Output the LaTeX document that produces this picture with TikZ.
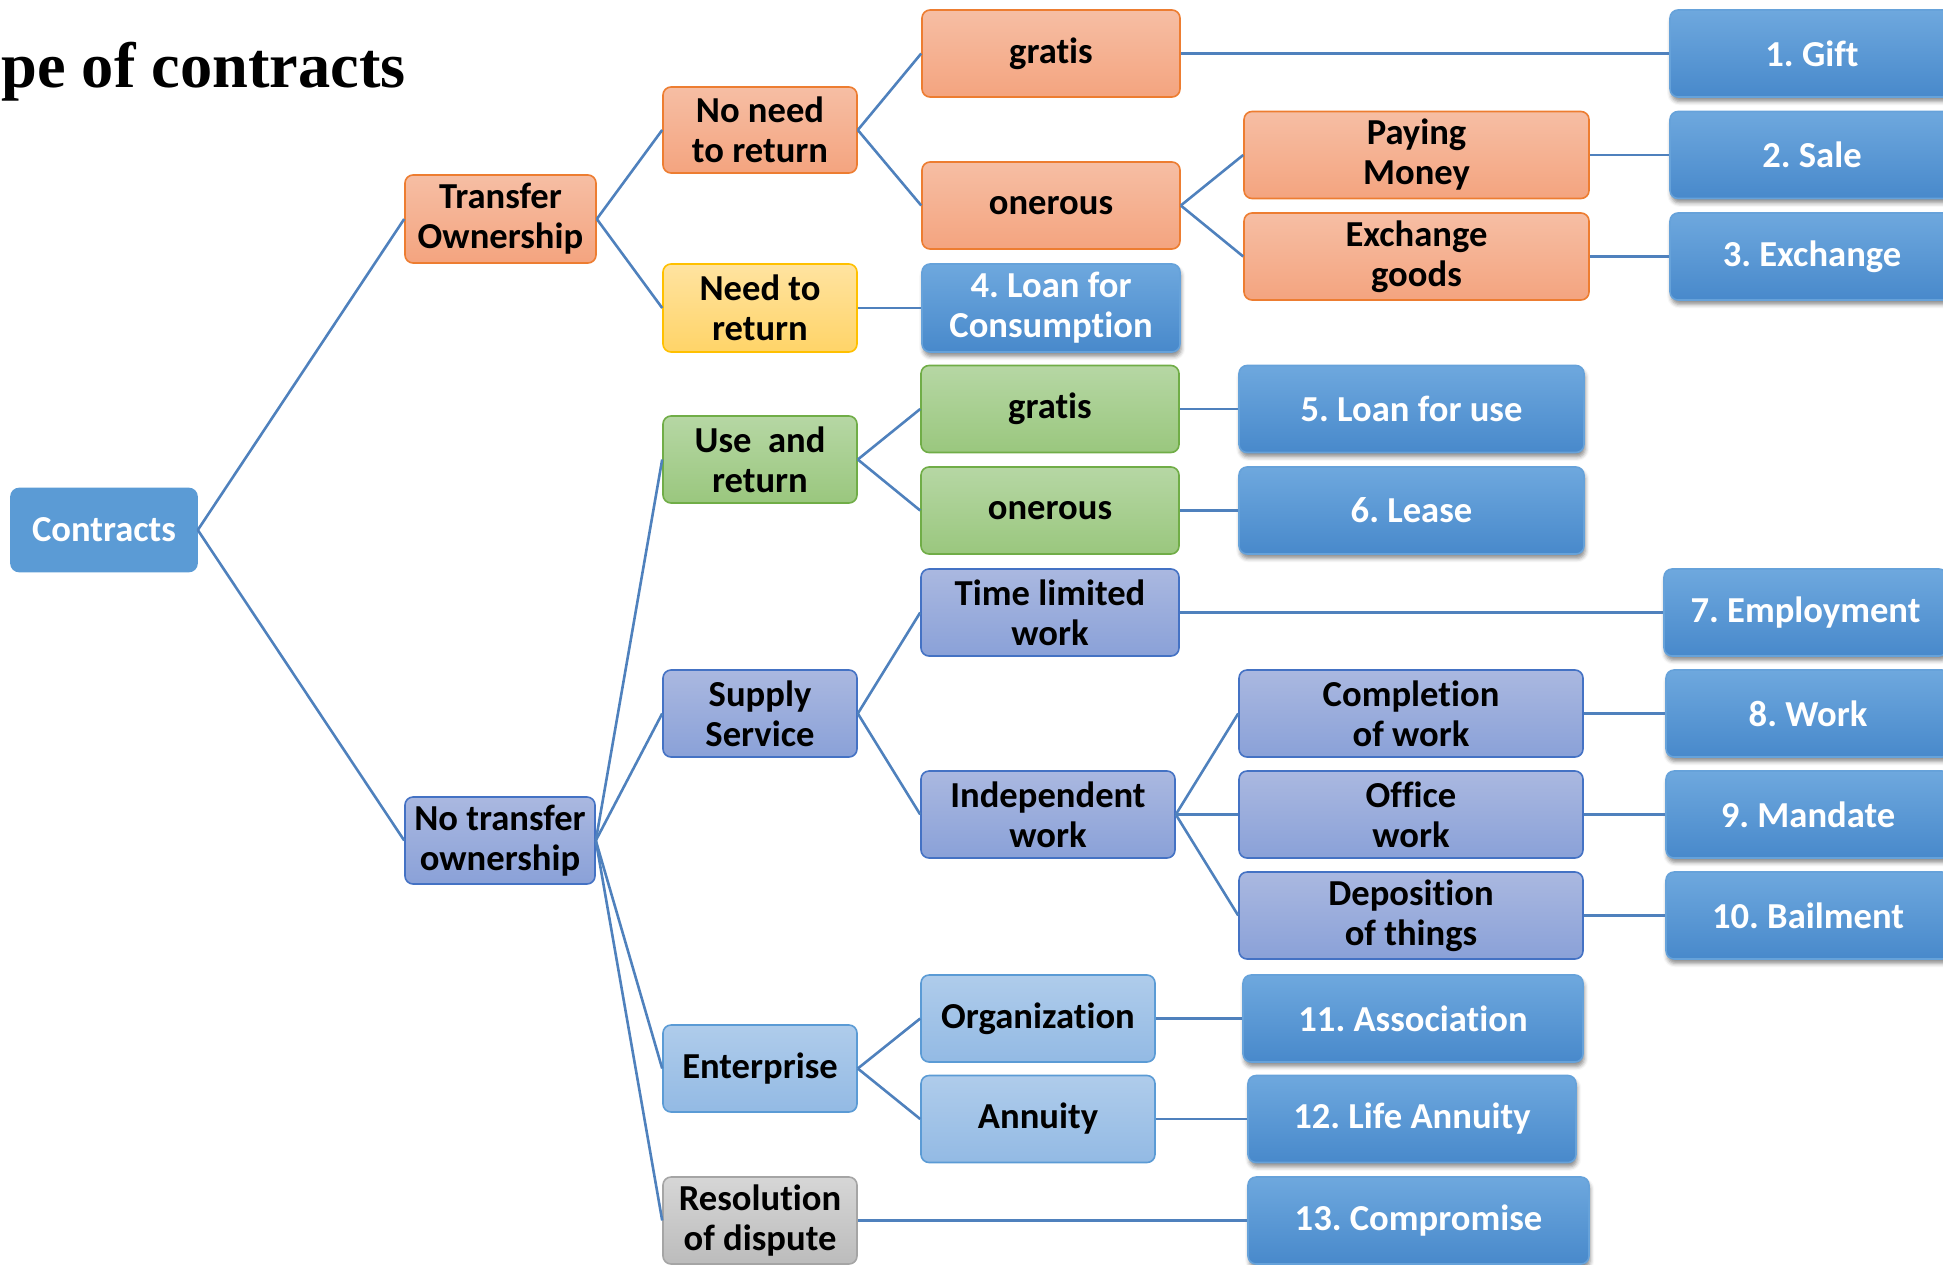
\documentclass[tikz,border=0pt]{standalone}
\usepackage{fontspec}
\newfontfamily\carlito[Ligatures=NoCommon]{Carlito}
\newfontfamily\titlefont{Liberation Serif}
\usetikzlibrary{shadows.blur}
\frenchspacing

\definecolor{linkc}{HTML}{4F81BD}
\definecolor{orTop}{HTML}{F6BEA4}
\definecolor{orBot}{HTML}{F4A47F}
\definecolor{orLine}{HTML}{ED7D31}
\definecolor{yeTop}{HTML}{FFE3A0}
\definecolor{yeBot}{HTML}{FFD468}
\definecolor{yeLine}{HTML}{FFC000}
\definecolor{grTop}{HTML}{B6D7A4}
\definecolor{grBot}{HTML}{9AC77E}
\definecolor{grLine}{HTML}{70AD47}
\definecolor{puTop}{HTML}{AAB8E0}
\definecolor{puBot}{HTML}{8AA1D8}
\definecolor{puLine}{HTML}{4472C4}
\definecolor{lbTop}{HTML}{AFCCEB}
\definecolor{lbBot}{HTML}{93BAE4}
\definecolor{lbLine}{HTML}{5B9BD5}
\definecolor{gyTop}{HTML}{D6D6D6}
\definecolor{gyBot}{HTML}{BCBCBC}
\definecolor{gyLine}{HTML}{A5A5A5}
\definecolor{rsTop}{HTML}{6EA8DE}
\definecolor{rsBot}{HTML}{4889CB}
\definecolor{rootc}{HTML}{5B9BD5}

\begin{document}
\begin{tikzpicture}[x=0.5pt,y=-0.5pt,
  box/.style={rounded corners=4pt, line width=0.8pt, align=center, inner sep=0pt,
    font=\carlito\bfseries\fontsize{18.3}{20}\selectfont, text=black},
  wh/.style 2 args={minimum width=#1*0.5pt, minimum height=#2*0.5pt},
  orbox/.style={box, draw=orLine, top color=orTop, bottom color=orBot},
  yebox/.style={box, draw=yeLine, top color=yeTop, bottom color=yeBot},
  grbox/.style={box, draw=grLine, top color=grTop, bottom color=grBot},
  pubox/.style={box, draw=puLine, top color=puTop, bottom color=puBot},
  lbbox/.style={box, draw=lbLine, top color=lbTop, bottom color=lbBot},
  gybox/.style={box, draw=gyLine, top color=gyTop, bottom color=gyBot},
  resbox/.style={box, draw=rsTop!80!rsBot, top color=rsTop, bottom color=rsBot, text=white,
    blur shadow={shadow xshift=0.6pt, shadow yshift=-2.2pt, shadow blur radius=2pt, shadow opacity=45}},
  rootbox/.style={box, draw=rootc, fill=rootc, text=white},
  link/.style={draw=linkc, line width=1.3pt}
]
\useasboundingbox (0,0) rectangle (1943,1264);
\clip (0,0) rectangle (1943,1264);

% heading
\node[anchor=base west, inner sep=0pt, font=\titlefont\bfseries\fontsize{32.2}{36}\selectfont] (title) at (1,87) {pe of contracts};

% root
\node[rootbox, wh={186}{83}] (root) at (104,530) {Contracts};

% second level
\node[orbox, wh={191}{88}] (to) at (500.5,219) {Transfer\\Ownership};
\node[pubox, wh={190}{87}] (nto) at (500,840.5) {No transfer\\ownership};

% third level
\node[orbox, wh={194}{86}] (noneed) at (760,130) {No need\\to return};
\node[yebox, wh={194}{88}] (need) at (760,308) {Need to\\return};
\node[grbox, wh={194}{87}] (use) at (760,459.5) {Use\ \ and\\return};
\node[pubox, wh={194}{87}] (supply) at (760,713.5) {Supply\\Service};
\node[lbbox, wh={194}{87}] (ent) at (760,1068.5) {Enterprise};
\node[gybox, wh={194}{87}] (res) at (760,1220.5) {Resolution\\of dispute};

% fourth level
\node[orbox, wh={258}{87}] (gratisA) at (1051,53.5) {gratis};
\node[orbox, wh={258}{87}] (onerA) at (1051,205.5) {onerous};
\node[resbox, wh={258}{88}] (loanc) at (1051,308) {4. Loan for\\Consumption};
\node[grbox, wh={258}{87}] (gratisB) at (1050,409) {gratis};
\node[grbox, wh={258}{87}] (onerB) at (1050,510.5) {onerous};
\node[pubox, wh={258}{87}] (time) at (1050,612.5) {Time limited\\work};
\node[pubox, wh={254}{87}] (indep) at (1048,814.5) {Independent\\work};
\node[lbbox, wh={234}{87}] (org) at (1038,1018.5) {Organization};
\node[lbbox, wh={234}{87}] (annu) at (1038,1119) {Annuity};

% fifth level
\node[orbox, wh={345}{87}] (pay) at (1416.5,155) {Paying\\Money};
\node[orbox, wh={345}{87}] (exg) at (1416.5,256.5) {Exchange\\goods};
\node[resbox, wh={345}{87}] (loanu) at (1411.5,409) {5. Loan for use};
\node[resbox, wh={345}{87}] (lease) at (1411.5,510.5) {6. Lease};
\node[pubox, wh={344}{87}] (compl) at (1411,713.5) {Completion\\of work};
\node[pubox, wh={344}{87}] (office) at (1411,814.5) {Office\\work};
\node[pubox, wh={344}{87}] (depo) at (1411,915.5) {Deposition\\of things};
\node[resbox, wh={340}{87}] (assoc) at (1413,1018.5) {11. Association};
\node[resbox, wh={328}{87}] (life) at (1412,1119) {12. Life Annuity};
\node[resbox, wh={341}{87}] (compr) at (1418.5,1220.5) {13. Compromise};

% outcome column
\node[resbox, wh={284}{87}] (gift) at (1812,53.5) {1. Gift};
\node[resbox, wh={284}{87}] (sale) at (1812,155) {2. Sale};
\node[resbox, wh={284}{87}] (exch) at (1812,256.5) {3. Exchange};
\node[resbox, wh={283}{87}] (empl) at (1805.5,612.5) {7. Employment};
\node[resbox, wh={284}{87}] (work) at (1808,713.5) {8. Work};
\node[resbox, wh={284}{87}] (mand) at (1808,814.5) {9. Mandate};
\node[resbox, wh={284}{87}] (bail) at (1808,915.5) {10. Bailment};

% connectors
\path[link] (root.east) -- (to.west);
\path[link] (root.east) -- (nto.west);
\path[link] (to.east) -- (noneed.west);
\path[link] (to.east) -- (need.west);
\path[link] (noneed.east) -- (gratisA.west);
\path[link] (noneed.east) -- (onerA.west);
\path[link] (need.east) -- (loanc.west);
\path[link] (gratisA.east) -- (gift.west);
\path[link] (onerA.east) -- (pay.west);
\path[link] (onerA.east) -- (exg.west);
\path[link] (pay.east) -- (sale.west);
\path[link] (exg.east) -- (exch.west);
\path[link] (nto.east) -- (use.west);
\path[link] (nto.east) -- (supply.west);
\path[link] (nto.east) -- (ent.west);
\path[link] (nto.east) -- (res.west);
\path[link] (use.east) -- (gratisB.west);
\path[link] (use.east) -- (onerB.west);
\path[link] (gratisB.east) -- (loanu.west);
\path[link] (onerB.east) -- (lease.west);
\path[link] (supply.east) -- (time.west);
\path[link] (supply.east) -- (indep.west);
\path[link] (time.east) -- (empl.west);
\path[link] (indep.east) -- (compl.west);
\path[link] (indep.east) -- (office.west);
\path[link] (indep.east) -- (depo.west);
\path[link] (compl.east) -- (work.west);
\path[link] (office.east) -- (mand.west);
\path[link] (depo.east) -- (bail.west);
\path[link] (ent.east) -- (org.west);
\path[link] (ent.east) -- (annu.west);
\path[link] (org.east) -- (assoc.west);
\path[link] (annu.east) -- (life.west);
\path[link] (res.east) -- (compr.west);
\end{tikzpicture}
\end{document}
